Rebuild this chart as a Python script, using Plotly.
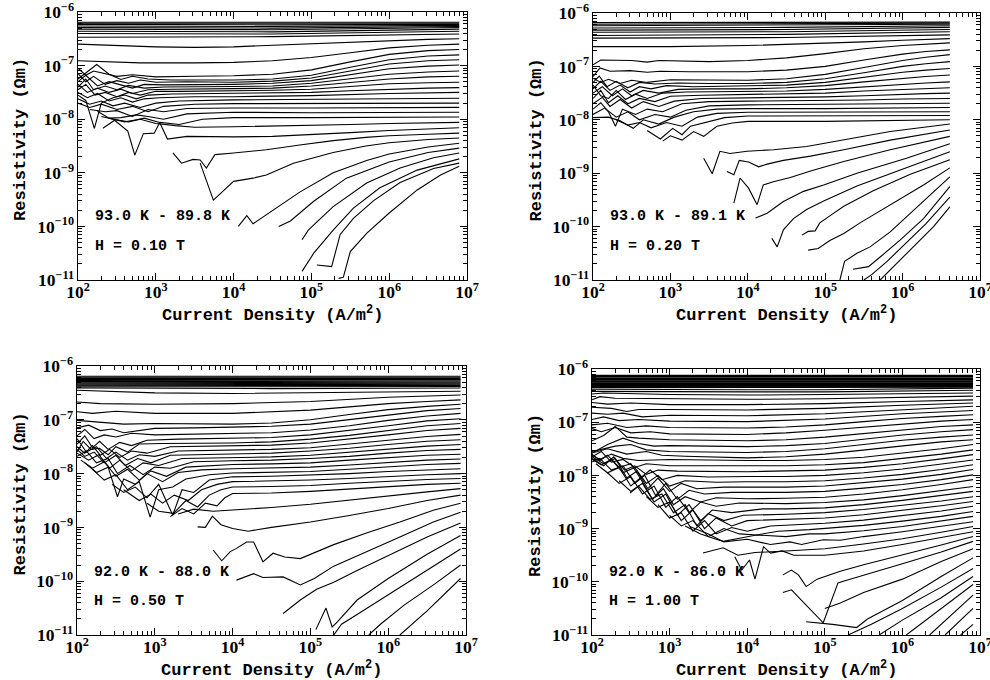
import plotly.graph_objects as go

# Resistivity isotherms.
# Every curve is a list of [log10 J (A/m^2), log10 rho (ohm m)] points.
TEMP_RANGES = ["93.0 K - 89.8 K", "93.0 K - 89.1 K", "92.0 K - 88.0 K", "92.0 K - 86.0 K"]
FIELDS = ["H = 0.10 T", "H = 0.20 T", "H = 0.50 T", "H = 1.00 T"]

# ---------------- H = 0.10 T ----------------
A_BAND = [
    [[2.0, -6.19], [4.5, -6.19], [6.9, -6.19]],
    [[2.0, -6.21], [4.5, -6.21], [6.9, -6.21]],
    [[2.0, -6.23], [4.5, -6.24], [6.9, -6.23]],
    [[2.0, -6.26], [4.5, -6.27], [6.9, -6.25]],
    [[2.0, -6.29], [4.5, -6.30], [6.9, -6.27]],
    [[2.0, -6.32], [4.5, -6.33], [6.9, -6.29]],
    [[2.0, -6.36], [4.5, -6.37], [6.9, -6.32]],
    [[2.0, -6.40], [4.5, -6.41], [6.9, -6.36]],
    [[2.0, -6.47], [4.5, -6.46], [6.9, -6.41]],
]
A_UPPER = [
    [[2.0, -6.60], [2.4, -6.62], [3.0, -6.65], [3.5, -6.66], [4.0, -6.65], [4.5, -6.62], [5.0, -6.59], [5.5, -6.56], [6.0, -6.53], [6.5, -6.51], [6.9, -6.50]],
    [[2.0, -6.91], [2.3, -6.93], [2.8, -6.95], [3.5, -6.95], [4.0, -6.94], [4.5, -6.91], [5.0, -6.85], [5.5, -6.76], [6.0, -6.67], [6.5, -6.62], [6.9, -6.60]],
    [[2.0, -7.05], [2.1, -7.18], [2.2, -7.10], [2.35, -7.15], [2.5, -7.20], [2.7, -7.17], [3.0, -7.21], [3.5, -7.20], [4.0, -7.19], [4.5, -7.16], [5.0, -7.08], [5.5, -6.93], [6.0, -6.79], [6.5, -6.72], [6.9, -6.70]],
]
A_CLUSTER = [
    [[2.0, -7.25], [2.12, -7.12], [2.24, -6.98], [2.4, -7.16], [2.55, -7.26], [2.7, -7.20], [2.9, -7.25], [3.2, -7.27], [4.0, -7.27], [4.5, -7.25], [5.0, -7.18], [5.5, -7.03], [6.0, -6.89], [6.5, -6.82], [6.9, -6.80]],
    [[2.0, -7.15], [2.1, -7.30], [2.2, -7.20], [2.35, -7.35], [2.5, -7.28], [2.65, -7.33], [2.8, -7.27], [3.0, -7.31], [3.4, -7.30], [4.0, -7.31], [4.5, -7.29], [5.0, -7.23], [5.5, -7.10], [6.0, -6.97], [6.5, -6.91], [6.9, -6.89]],
    [[2.0, -7.30], [2.1, -7.18], [2.25, -7.38], [2.4, -7.30], [2.55, -7.36], [2.7, -7.42], [2.85, -7.35], [3.1, -7.36], [4.0, -7.35], [4.5, -7.33], [5.0, -7.28], [5.5, -7.17], [6.0, -7.06], [6.5, -7.01], [6.9, -6.99]],
    [[2.0, -7.40], [2.1, -7.25], [2.2, -7.45], [2.35, -7.38], [2.5, -7.45], [2.65, -7.37], [2.85, -7.42], [3.1, -7.40], [4.0, -7.39], [4.5, -7.38], [5.0, -7.33], [5.5, -7.24], [6.0, -7.16], [6.5, -7.12], [6.9, -7.10]],
    [[2.0, -7.35], [2.12, -7.50], [2.25, -7.42], [2.4, -7.50], [2.55, -7.44], [2.7, -7.52], [2.9, -7.45], [3.2, -7.44], [4.0, -7.43], [4.5, -7.42], [5.0, -7.38], [5.5, -7.31], [6.0, -7.25], [6.5, -7.21], [6.9, -7.20]],
    [[2.0, -7.45], [2.1, -7.35], [2.22, -7.55], [2.35, -7.50], [2.5, -7.58], [2.65, -7.50], [2.8, -7.55], [3.0, -7.48], [3.3, -7.48], [4.0, -7.47], [4.5, -7.46], [5.0, -7.44], [5.5, -7.39], [6.0, -7.34], [6.5, -7.32], [6.9, -7.31]],
    [[2.0, -7.55], [2.1, -7.65], [2.21, -8.17], [2.3, -7.70], [2.45, -7.60], [2.6, -7.55], [2.75, -7.62], [2.9, -7.55], [3.2, -7.53], [4.0, -7.52], [5.0, -7.50], [5.5, -7.47], [6.0, -7.44], [6.5, -7.42], [6.9, -7.41]],
    [[2.0, -7.50], [2.12, -7.60], [2.25, -7.52], [2.4, -7.66], [2.55, -7.60], [2.7, -7.68], [2.85, -7.62], [3.05, -7.60], [3.5, -7.58], [4.0, -7.58], [5.0, -7.56], [5.5, -7.54], [6.0, -7.52], [6.9, -7.50]],
    [[2.0, -7.62], [2.15, -7.72], [2.3, -7.66], [2.45, -7.75], [2.6, -7.70], [2.8, -7.78], [3.0, -7.70], [3.3, -7.66], [4.0, -7.64], [5.0, -7.63], [6.0, -7.61], [6.9, -7.61]],
    [[2.0, -7.70], [2.15, -7.78], [2.3, -7.72], [2.5, -7.82], [2.7, -7.76], [2.9, -7.86], [3.1, -7.76], [3.5, -7.72], [4.0, -7.71], [5.0, -7.71], [6.0, -7.70], [6.9, -7.70]],
    [[2.15, -7.82], [2.35, -7.86], [2.5, -7.84], [2.7, -7.95], [2.9, -7.82], [3.1, -7.86], [3.4, -7.80], [4.0, -7.79], [5.0, -7.79], [6.0, -7.79], [6.9, -7.78]],
    [[2.25, -7.85], [2.4, -7.98], [2.55, -7.97], [2.75, -7.92], [2.9, -7.95], [3.1, -8.00], [3.4, -7.90], [4.0, -7.87], [5.0, -7.88], [6.0, -7.88], [6.9, -7.87]],
    [[2.3, -7.95], [2.45, -8.00], [2.65, -8.05], [2.85, -7.98], [3.05, -8.06], [3.3, -8.10], [3.6, -8.00], [4.0, -7.97], [5.0, -7.97], [6.0, -7.97], [6.9, -7.96]],
    [[2.4, -7.98], [2.6, -8.05], [2.8, -8.00], [3.0, -8.08], [3.25, -8.12], [3.5, -8.15], [4.0, -8.14], [4.5, -8.13], [5.0, -8.12], [5.5, -8.10], [6.0, -8.08], [6.9, -8.06]],
    [[2.32, -8.17], [2.47, -8.02], [2.64, -8.22], [2.73, -8.67], [2.84, -8.27], [2.98, -8.26], [3.05, -8.06], [3.15, -8.37], [3.4, -8.32], [4.0, -8.33], [4.5, -8.32], [5.0, -8.29], [5.5, -8.25], [6.0, -8.21], [6.5, -8.18], [6.9, -8.16]],
]
A_LOWER = [
    [[3.22, -8.63], [3.33, -8.82], [3.48, -8.75], [3.57, -8.76], [3.65, -8.91], [3.76, -8.66], [4.0, -8.63], [4.42, -8.57], [4.85, -8.48], [5.28, -8.40], [5.7, -8.34], [6.0, -8.31], [6.5, -8.28], [6.9, -8.26]],
    [[3.57, -8.82], [3.74, -9.51], [4.0, -9.16], [4.25, -9.10], [4.42, -9.04], [4.77, -8.82], [5.28, -8.62], [5.7, -8.50], [6.0, -8.44], [6.5, -8.38], [6.9, -8.35]],
    [[4.06, -10.0], [4.17, -9.80], [4.25, -9.95], [4.51, -9.70], [4.85, -9.36], [5.28, -9.00], [5.71, -8.77], [6.0, -8.65], [6.5, -8.52], [6.9, -8.45]],
    [[4.58, -10.0], [4.73, -9.90], [5.03, -9.53], [5.45, -9.10], [6.0, -8.80], [6.5, -8.62], [6.9, -8.54]],
    [[4.88, -10.25], [4.96, -10.07], [5.28, -9.63], [5.71, -9.19], [6.14, -8.91], [6.57, -8.72], [6.9, -8.63]],
    [[4.88, -10.84], [5.03, -10.50], [5.28, -10.07], [5.54, -9.66], [5.88, -9.28], [6.36, -8.95], [6.9, -8.74]],
    [[5.07, -10.72], [5.26, -10.75], [5.37, -10.15], [5.54, -9.85], [5.8, -9.52], [6.14, -9.18], [6.57, -8.92], [6.9, -8.82]],
    [[5.35, -10.97], [5.41, -10.95], [5.5, -10.47], [5.71, -10.13], [6.0, -9.75], [6.36, -9.32], [6.66, -9.04], [6.9, -8.88]],
]

# ---------------- H = 0.20 T ----------------
B_BAND = [
    [[2.0, -6.18], [4.5, -6.18], [6.61, -6.17]],
    [[2.0, -6.21], [4.5, -6.20], [6.61, -6.19]],
    [[2.0, -6.24], [4.5, -6.23], [6.61, -6.21]],
    [[2.0, -6.28], [4.5, -6.27], [6.61, -6.24]],
    [[2.0, -6.32], [4.5, -6.31], [6.61, -6.27]],
    [[2.0, -6.36], [4.5, -6.35], [6.61, -6.31]],
    [[2.0, -6.42], [4.5, -6.40], [6.61, -6.35]],
    [[2.0, -6.47], [4.5, -6.46], [6.61, -6.41]],
]
B_UPPER = [
    [[2.0, -6.63], [3.0, -6.63], [4.0, -6.61], [5.0, -6.57], [5.5, -6.54], [6.0, -6.51], [6.61, -6.48]],
    [[2.0, -6.97], [2.1, -6.88], [2.5, -6.89], [2.7, -6.92], [2.85, -6.89], [3.5, -6.91], [4.0, -6.89], [4.5, -6.84], [5.0, -6.76], [5.5, -6.67], [6.0, -6.61], [6.61, -6.56]],
    [[2.0, -7.19], [2.09, -7.03], [2.22, -7.09], [2.48, -7.08], [2.7, -7.11], [2.87, -7.09], [3.25, -7.10], [4.0, -7.10], [4.5, -7.07], [5.0, -7.00], [5.5, -6.88], [6.0, -6.77], [6.3, -6.72], [6.61, -6.69]],
]
B_CLUSTER = [
    [[2.0, -7.22], [2.1, -7.30], [2.2, -7.24], [2.35, -7.32], [2.5, -7.26], [2.7, -7.30], [3.0, -7.25], [3.5, -7.26], [4.0, -7.26], [4.5, -7.23], [5.0, -7.15], [5.5, -7.02], [6.0, -6.89], [6.3, -6.83], [6.61, -6.78]],
    [[2.0, -7.30], [2.08, -7.18], [2.18, -7.38], [2.3, -7.28], [2.45, -7.40], [2.6, -7.30], [2.8, -7.33], [3.1, -7.31], [3.5, -7.32], [4.0, -7.32], [4.5, -7.30], [5.0, -7.23], [5.5, -7.12], [6.0, -7.00], [6.3, -6.95], [6.61, -6.91]],
    [[2.0, -7.42], [2.1, -7.28], [2.22, -7.45], [2.35, -7.35], [2.48, -7.48], [2.6, -7.38], [2.75, -7.42], [2.95, -7.36], [3.3, -7.38], [4.0, -7.37], [4.5, -7.35], [5.0, -7.30], [5.5, -7.20], [6.0, -7.11], [6.3, -7.07], [6.61, -7.04]],
    [[2.0, -7.50], [2.12, -7.38], [2.25, -7.55], [2.38, -7.42], [2.5, -7.55], [2.65, -7.45], [2.85, -7.50], [3.1, -7.43], [3.5, -7.42], [4.0, -7.42], [4.5, -7.40], [5.0, -7.36], [5.5, -7.29], [6.0, -7.22], [6.3, -7.19], [6.61, -7.16]],
    [[2.0, -7.35], [2.1, -7.55], [2.2, -7.60], [2.3, -7.45], [2.42, -7.62], [2.55, -7.52], [2.7, -7.60], [2.9, -7.50], [3.2, -7.48], [4.0, -7.47], [4.5, -7.46], [5.0, -7.43], [5.5, -7.38], [6.0, -7.33], [6.3, -7.31], [6.61, -7.29]],
    [[2.0, -7.60], [2.1, -7.45], [2.2, -7.68], [2.32, -7.55], [2.45, -7.70], [2.6, -7.60], [2.8, -7.66], [3.0, -7.56], [3.4, -7.54], [4.0, -7.53], [4.5, -7.52], [5.0, -7.50], [5.5, -7.46], [6.0, -7.43], [6.3, -7.41], [6.61, -7.40]],
    [[2.0, -7.70], [2.12, -7.58], [2.22, -7.75], [2.35, -7.62], [2.5, -7.78], [2.65, -7.66], [2.85, -7.75], [3.05, -7.65], [3.4, -7.60], [4.0, -7.59], [4.5, -7.58], [5.0, -7.57], [5.5, -7.55], [6.0, -7.52], [6.3, -7.51], [6.61, -7.50]],
    [[2.0, -7.80], [2.1, -7.68], [2.2, -7.85], [2.29, -8.12], [2.38, -7.80], [2.55, -7.90], [2.7, -7.80], [2.9, -7.85], [3.15, -7.70], [3.5, -7.66], [4.0, -7.65], [5.0, -7.64], [5.5, -7.63], [6.0, -7.61], [6.61, -7.60]],
    [[2.0, -7.90], [2.15, -7.78], [2.3, -7.95], [2.45, -7.85], [2.6, -8.00], [2.8, -7.90], [3.0, -7.95], [3.2, -7.82], [3.5, -7.74], [4.0, -7.72], [5.0, -7.71], [6.0, -7.70], [6.61, -7.69]],
    [[2.0, -7.96], [2.2, -7.95], [2.35, -8.02], [2.52, -8.16], [2.65, -8.00], [2.85, -8.08], [3.05, -7.95], [3.3, -7.85], [3.6, -7.80], [4.0, -7.79], [5.0, -7.79], [6.0, -7.78], [6.61, -7.77]],
    [[2.3, -8.00], [2.45, -8.10], [2.6, -8.05], [2.75, -8.15], [2.95, -8.05], [3.15, -8.12], [3.35, -7.95], [3.6, -7.88], [4.0, -7.86], [5.0, -7.86], [6.0, -7.85], [6.61, -7.85]],
    [[2.7, -8.20], [2.87, -8.36], [3.03, -8.16], [3.15, -8.28], [3.26, -8.12], [3.45, -8.05], [3.7, -7.96], [4.0, -7.93], [5.0, -7.93], [6.0, -7.92], [6.61, -7.92]],
    [[2.9, -8.40], [3.0, -8.30], [3.15, -8.38], [3.3, -8.22], [3.43, -8.31], [3.6, -8.12], [3.8, -8.06], [4.0, -8.03], [5.0, -8.03], [6.0, -8.01], [6.61, -8.00]],
]
B_LOWER = [
    [[3.43, -8.72], [3.54, -9.01], [3.64, -8.59], [3.77, -8.63], [3.99, -8.59], [4.33, -8.56], [4.76, -8.50], [5.24, -8.38], [5.84, -8.22], [6.61, -8.08]],
    [[3.73, -8.97], [3.82, -9.03], [3.89, -8.76], [4.01, -8.79], [4.14, -8.88], [4.25, -8.83], [4.46, -8.76], [4.81, -8.68], [5.24, -8.56], [5.84, -8.38], [6.61, -8.19]],
    [[3.82, -9.56], [3.9, -9.09], [4.01, -9.28], [4.12, -9.59], [4.2, -9.22], [4.33, -9.16], [4.55, -9.08], [4.81, -8.96], [5.24, -8.78], [5.84, -8.56], [6.61, -8.31]],
    [[4.1, -9.84], [4.25, -9.75], [4.46, -9.53], [4.72, -9.34], [4.98, -9.22], [5.41, -9.00], [6.05, -8.72], [6.61, -8.45]],
    [[4.31, -10.22], [4.38, -10.38], [4.46, -10.06], [4.59, -9.85], [4.76, -9.68], [4.98, -9.52], [5.41, -9.24], [6.05, -8.90], [6.61, -8.60]],
    [[4.7, -10.16], [4.78, -10.09], [4.87, -10.08], [4.93, -9.93], [5.06, -9.80], [5.24, -9.62], [5.62, -9.33], [6.1, -9.02], [6.61, -8.75]],
    [[4.78, -10.44], [4.91, -10.41], [5.06, -10.26], [5.24, -10.13], [5.45, -9.93], [5.84, -9.60], [6.27, -9.22], [6.61, -8.90]],
    [[5.19, -11.0], [5.25, -10.65], [5.41, -10.50], [5.58, -10.38], [5.84, -10.10], [6.2, -9.62], [6.61, -9.07]],
    [[5.36, -10.80], [5.56, -10.75], [5.71, -10.57], [5.97, -10.25], [6.27, -9.85], [6.61, -9.25]],
    [[5.5, -11.0], [5.6, -10.90], [5.8, -10.65], [6.05, -10.30], [6.3, -9.95], [6.61, -9.45]],
    [[5.71, -11.0], [5.95, -10.65], [6.2, -10.30], [6.4, -10.00], [6.61, -9.63]],
]

# ---------------- H = 0.50 T ----------------
C_BAND = [
    [[2.0, -6.19], [4.5, -6.19], [6.93, -6.19]],
    [[2.0, -6.21], [4.5, -6.21], [6.93, -6.21]],
    [[2.0, -6.23], [4.5, -6.23], [6.93, -6.23]],
    [[2.0, -6.25], [4.5, -6.25], [6.93, -6.25]],
    [[2.0, -6.27], [4.5, -6.27], [6.93, -6.26]],
    [[2.0, -6.29], [4.5, -6.29], [6.93, -6.28]],
    [[2.0, -6.31], [4.5, -6.31], [6.93, -6.30]],
    [[2.0, -6.33], [4.5, -6.33], [6.93, -6.32]],
    [[2.0, -6.35], [4.5, -6.35], [6.93, -6.34]],
    [[2.0, -6.37], [4.5, -6.37], [6.93, -6.36]],
    [[2.0, -6.39], [4.5, -6.39], [6.93, -6.38]],
    [[2.0, -6.41], [4.5, -6.42], [6.93, -6.41]],
]
C_UPPER = [
    [[2.0, -6.45], [3.0, -6.50], [4.0, -6.51], [5.0, -6.50], [6.0, -6.49], [6.93, -6.47]],
    [[2.0, -6.67], [2.3, -6.70], [3.0, -6.71], [4.0, -6.70], [5.0, -6.66], [5.5, -6.62], [6.0, -6.58], [6.93, -6.54]],
    [[2.0, -6.85], [2.2, -6.88], [2.5, -6.84], [3.0, -6.88], [4.0, -6.88], [5.0, -6.82], [5.5, -6.76], [6.0, -6.70], [6.5, -6.66], [6.93, -6.63]],
    [[2.0, -7.01], [2.3, -7.05], [2.6, -7.08], [3.0, -7.07], [4.0, -7.08], [4.5, -7.06], [5.0, -7.00], [5.5, -6.90], [6.0, -6.81], [6.5, -6.75], [6.93, -6.71]],
]
C_CLUSTER = [
    [[2.0, -7.15], [2.15, -7.10], [2.3, -7.20], [2.45, -7.17], [2.6, -7.24], [2.8, -7.20], [3.0, -7.16], [3.5, -7.15], [4.0, -7.14], [4.5, -7.12], [5.0, -7.08], [5.5, -7.00], [6.0, -6.91], [6.5, -6.83], [6.93, -6.79]],
    [[2.0, -7.30], [2.1, -7.18], [2.22, -7.35], [2.35, -7.28], [2.5, -7.32], [2.7, -7.25], [3.0, -7.28], [3.5, -7.27], [4.0, -7.26], [4.5, -7.24], [5.0, -7.19], [5.5, -7.11], [6.0, -7.01], [6.5, -6.93], [6.93, -6.88]],
    [[2.0, -7.45], [2.1, -7.30], [2.2, -7.52], [2.29, -7.40], [2.4, -7.55], [2.55, -7.42], [2.7, -7.48], [2.9, -7.38], [3.3, -7.36], [4.0, -7.35], [4.5, -7.33], [5.0, -7.28], [5.5, -7.20], [6.0, -7.11], [6.5, -7.02], [6.93, -6.98]],
    [[2.0, -7.60], [2.08, -7.40], [2.18, -7.55], [2.29, -7.53], [2.4, -7.65], [2.5, -7.50], [2.65, -7.60], [2.8, -7.45], [3.1, -7.44], [4.0, -7.43], [4.5, -7.41], [5.0, -7.36], [5.5, -7.29], [6.0, -7.20], [6.5, -7.11], [6.93, -7.07]],
    [[2.0, -7.50], [2.1, -7.62], [2.2, -7.48], [2.3, -7.66], [2.42, -7.55], [2.55, -7.70], [2.7, -7.58], [2.9, -7.62], [3.2, -7.50], [4.0, -7.49], [4.5, -7.47], [5.0, -7.43], [5.5, -7.36], [6.0, -7.28], [6.5, -7.20], [6.93, -7.16]],
    [[2.0, -7.35], [2.12, -7.60], [2.25, -7.50], [2.38, -7.72], [2.5, -7.60], [2.65, -7.75], [2.8, -7.65], [3.0, -7.68], [3.3, -7.58], [4.0, -7.57], [4.5, -7.55], [5.0, -7.52], [5.5, -7.45], [6.0, -7.38], [6.5, -7.31], [6.93, -7.27]],
    [[2.0, -7.55], [2.1, -7.68], [2.22, -7.60], [2.35, -7.80], [2.5, -7.66], [2.62, -7.85], [2.78, -7.72], [2.95, -7.80], [3.2, -7.66], [4.0, -7.63], [4.5, -7.62], [5.0, -7.58], [5.5, -7.53], [6.0, -7.46], [6.5, -7.40], [6.93, -7.37]],
    [[2.0, -7.62], [2.15, -7.75], [2.28, -7.65], [2.42, -7.90], [2.55, -7.75], [2.7, -7.95], [2.85, -7.80], [3.05, -7.85], [3.35, -7.72], [4.0, -7.70], [4.5, -7.69], [5.0, -7.66], [5.5, -7.60], [6.0, -7.54], [6.5, -7.49], [6.93, -7.46]],
    [[2.0, -7.68], [2.12, -7.58], [2.25, -7.80], [2.4, -7.72], [2.52, -8.00], [2.68, -7.85], [2.85, -8.02], [3.0, -7.88], [3.2, -7.90], [3.5, -7.78], [4.0, -7.76], [4.5, -7.75], [5.0, -7.72], [5.5, -7.68], [6.0, -7.62], [6.5, -7.57], [6.93, -7.55]],
    [[2.05, -7.75], [2.2, -7.90], [2.35, -7.78], [2.5, -8.05], [2.65, -7.92], [2.8, -8.12], [2.95, -7.95], [3.15, -8.05], [3.4, -7.88], [4.0, -7.83], [4.5, -7.82], [5.0, -7.80], [5.5, -7.75], [6.0, -7.71], [6.5, -7.66], [6.93, -7.64]],
    [[2.1, -7.80], [2.25, -7.98], [2.4, -7.88], [2.52, -8.43], [2.6, -8.10], [2.75, -8.20], [2.9, -8.00], [3.1, -8.15], [3.3, -7.98], [3.6, -7.93], [4.0, -7.91], [4.5, -7.90], [5.0, -7.88], [5.5, -7.84], [6.0, -7.79], [6.5, -7.75], [6.93, -7.73]],
    [[2.2, -7.92], [2.35, -8.12], [2.5, -8.02], [2.65, -8.30], [2.8, -8.15], [2.94, -8.81], [3.05, -8.30], [3.23, -8.25], [3.4, -8.10], [3.7, -8.02], [4.0, -7.99], [4.5, -7.98], [5.0, -7.96], [5.5, -7.92], [6.0, -7.88], [6.5, -7.83], [6.93, -7.81]],
    [[2.45, -8.20], [2.6, -8.35], [2.75, -8.25], [2.9, -8.45], [3.05, -8.20], [3.23, -8.77], [3.35, -8.30], [3.5, -8.35], [3.7, -8.12], [4.0, -8.06], [4.5, -8.05], [5.0, -8.03], [5.5, -8.00], [6.0, -7.96], [6.5, -7.93], [6.93, -7.91]],
    [[2.6, -8.30], [2.8, -8.50], [2.95, -8.38], [3.1, -8.55], [3.25, -8.40], [3.43, -8.50], [3.6, -8.30], [3.8, -8.20], [4.0, -8.15], [4.5, -8.14], [5.0, -8.12], [5.5, -8.09], [6.0, -8.05], [6.5, -8.02], [6.93, -8.00]],
    [[2.9, -8.55], [3.05, -8.70], [3.24, -8.74], [3.4, -8.50], [3.55, -8.62], [3.7, -8.40], [3.85, -8.30], [4.0, -8.25], [4.5, -8.24], [5.0, -8.22], [5.5, -8.18], [6.0, -8.14], [6.5, -8.11], [6.93, -8.09]],
    [[3.2, -8.80], [3.35, -8.65], [3.5, -8.75], [3.65, -8.55], [3.8, -8.60], [3.9, -8.45], [4.0, -8.37], [4.5, -8.36], [5.0, -8.33], [5.5, -8.29], [6.0, -8.24], [6.5, -8.20], [6.93, -8.18]],
]
C_LOWER = [
    [[3.3, -8.75], [3.5, -8.66], [3.75, -8.70], [4.0, -8.68], [4.5, -8.63], [5.0, -8.57], [5.5, -8.49], [6.0, -8.42], [6.5, -8.34], [6.93, -8.28]],
    [[3.55, -8.99], [3.65, -9.00], [3.74, -8.79], [3.85, -8.95], [4.0, -9.02], [4.2, -9.07], [4.5, -9.00], [5.0, -8.90], [5.5, -8.78], [6.0, -8.65], [6.5, -8.50], [6.93, -8.40]],
    [[3.75, -9.42], [3.86, -9.62], [3.97, -9.45], [4.05, -9.39], [4.18, -9.27], [4.27, -9.27], [4.39, -9.64], [4.52, -9.48], [4.67, -9.55], [4.87, -9.58], [5.3, -9.32], [5.73, -9.10], [6.15, -8.90], [6.58, -8.68], [6.93, -8.55]],
    [[4.05, -9.98], [4.27, -9.86], [4.39, -9.93], [4.65, -9.92], [4.87, -10.07], [5.05, -9.95], [5.3, -9.72], [5.73, -9.45], [6.15, -9.18], [6.58, -8.90], [6.93, -8.72]],
    [[4.65, -10.60], [4.87, -10.35], [5.08, -10.15], [5.3, -10.02], [5.6, -9.80], [6.0, -9.52], [6.5, -9.18], [6.93, -8.92]],
    [[5.07, -10.90], [5.13, -10.70], [5.2, -10.50], [5.28, -10.85], [5.35, -10.75], [5.6, -10.35], [6.0, -9.95], [6.5, -9.50], [6.93, -9.15]],
    [[5.3, -11.0], [5.4, -10.80], [5.6, -10.62], [6.0, -10.25], [6.5, -9.80], [6.93, -9.40]],
    [[5.75, -11.0], [5.9, -10.80], [6.2, -10.45], [6.6, -10.05], [6.93, -9.70]],
    [[6.15, -11.0], [6.5, -10.55], [6.93, -9.95]],
]

# ---------------- H = 1.00 T ----------------
D_BAND = [
    [[2.0, -6.12], [6.91, -6.12]], [[2.0, -6.13], [6.91, -6.13]], [[2.0, -6.14], [6.91, -6.14]],
    [[2.0, -6.15], [6.91, -6.15]], [[2.0, -6.17], [6.91, -6.17]], [[2.0, -6.18], [6.91, -6.18]],
    [[2.0, -6.19], [6.91, -6.19]], [[2.0, -6.20], [6.91, -6.20]], [[2.0, -6.22], [6.91, -6.22]],
    [[2.0, -6.23], [6.91, -6.23]], [[2.0, -6.24], [6.91, -6.24]], [[2.0, -6.25], [6.91, -6.25]],
    [[2.0, -6.27], [6.91, -6.27]], [[2.0, -6.28], [6.91, -6.28]], [[2.0, -6.29], [6.91, -6.29]],
    [[2.0, -6.30], [6.91, -6.30]], [[2.0, -6.31], [6.91, -6.31]], [[2.0, -6.33], [6.91, -6.32]],
    [[2.0, -6.34], [6.91, -6.33]], [[2.0, -6.35], [6.91, -6.34]],
]
D_UPPER = [
    [[2.0, -6.38], [3.0, -6.39], [4.0, -6.39], [5.0, -6.39], [6.0, -6.37], [6.91, -6.36]],
    [[2.0, -6.42], [3.0, -6.43], [4.0, -6.43], [5.0, -6.43], [6.0, -6.41], [6.91, -6.40]],
    [[2.0, -6.47], [2.15, -6.45], [3.0, -6.48], [4.0, -6.49], [5.0, -6.48], [6.0, -6.46], [6.91, -6.45]],
    [[2.0, -6.58], [2.1, -6.52], [2.3, -6.55], [3.0, -6.56], [4.0, -6.57], [5.0, -6.56], [6.0, -6.53], [6.91, -6.51]],
    [[2.0, -6.63], [2.2, -6.66], [2.5, -6.64], [3.0, -6.67], [4.0, -6.67], [5.0, -6.65], [6.0, -6.61], [6.91, -6.58]],
    [[2.0, -6.72], [2.25, -6.74], [2.45, -6.80], [2.6, -6.76], [3.0, -6.76], [4.0, -6.77], [5.0, -6.74], [6.0, -6.68], [6.91, -6.64]],
    [[2.0, -6.83], [2.2, -6.85], [2.4, -6.83], [2.65, -6.90], [3.0, -6.87], [4.0, -6.88], [5.0, -6.84], [6.0, -6.76], [6.91, -6.70]],
    [[2.0, -6.95], [2.15, -6.90], [2.35, -6.97], [2.6, -6.95], [3.0, -6.98], [4.0, -6.99], [5.0, -6.94], [5.5, -6.89], [6.0, -6.84], [6.91, -6.78]],
    [[2.0, -7.05], [2.2, -7.02], [2.45, -7.10], [2.7, -7.07], [3.0, -7.10], [4.0, -7.11], [4.5, -7.09], [5.0, -7.05], [5.5, -6.99], [6.0, -6.93], [6.5, -6.89], [6.91, -6.86]],
    [[2.0, -7.12], [2.12, -7.18], [2.3, -7.10], [2.5, -7.20], [2.75, -7.18], [3.0, -7.22], [4.0, -7.23], [4.5, -7.20], [5.0, -7.15], [5.5, -7.09], [6.0, -7.03], [6.5, -6.98], [6.91, -6.95]],
    [[2.0, -7.35], [2.15, -7.25], [2.3, -7.08], [2.45, -7.28], [2.6, -7.30], [3.0, -7.33], [4.0, -7.35], [4.5, -7.33], [5.0, -7.28], [5.5, -7.21], [6.0, -7.14], [6.5, -7.08], [6.91, -7.05]],
    [[2.0, -7.58], [2.2, -7.42], [2.4, -7.30], [2.6, -7.40], [2.8, -7.45], [3.0, -7.44], [4.0, -7.46], [4.5, -7.44], [5.0, -7.40], [5.5, -7.32], [6.0, -7.24], [6.5, -7.18], [6.91, -7.14]],
    [[2.0, -7.55], [2.3, -7.45], [2.5, -7.42], [2.7, -7.52], [3.0, -7.55], [4.0, -7.57], [4.5, -7.55], [5.0, -7.50], [5.5, -7.42], [6.0, -7.34], [6.5, -7.28], [6.91, -7.24]],
    [[2.0, -7.58], [2.2, -7.50], [2.45, -7.60], [2.7, -7.55], [2.9, -7.62], [3.2, -7.64], [4.0, -7.67], [4.5, -7.65], [5.0, -7.60], [5.5, -7.52], [6.0, -7.44], [6.5, -7.37], [6.91, -7.33]],
]
D_CLUSTER = [
    [[2.0, -7.62], [2.1, -7.70], [2.25, -7.60], [2.4, -7.68], [2.6, -7.72], [3.0, -7.70], [4.0, -7.72], [4.5, -7.72], [5.0, -7.70], [5.5, -7.66], [6.0, -7.58], [6.5, -7.50], [6.91, -7.42]],
    [[2.0, -7.65], [2.12, -7.55], [2.25, -7.75], [2.4, -7.70], [2.55, -7.85], [2.7, -7.78], [3.0, -7.82], [4.0, -7.82], [4.5, -7.82], [5.0, -7.80], [5.5, -7.76], [6.0, -7.68], [6.5, -7.60], [6.91, -7.52]],
    [[2.0, -7.68], [2.15, -7.82], [2.28, -7.65], [2.42, -7.90], [2.55, -7.82], [2.7, -7.98], [2.85, -7.90], [3.1, -7.92], [4.0, -7.93], [4.5, -7.92], [5.0, -7.90], [5.5, -7.85], [6.0, -7.78], [6.5, -7.69], [6.91, -7.61]],
    [[2.0, -7.60], [2.1, -7.72], [2.2, -7.62], [2.35, -7.85], [2.5, -7.78], [2.62, -8.05], [2.75, -7.90], [2.9, -8.08], [3.1, -8.00], [3.5, -8.03], [4.0, -8.02], [4.5, -8.02], [5.0, -8.00], [5.5, -7.95], [6.0, -7.88], [6.5, -7.79], [6.91, -7.71]],
    [[2.0, -7.70], [2.12, -7.80], [2.25, -7.70], [2.4, -7.95], [2.55, -7.85], [2.7, -8.15], [2.85, -8.00], [3.0, -8.20], [3.2, -8.10], [3.6, -8.13], [4.0, -8.12], [4.5, -8.12], [5.0, -8.10], [5.5, -8.05], [6.0, -7.98], [6.5, -7.89], [6.91, -7.80]],
    [[2.0, -7.65], [2.15, -7.78], [2.3, -7.68], [2.45, -8.05], [2.58, -7.92], [2.72, -8.25], [2.85, -8.05], [3.0, -8.30], [3.15, -8.15], [3.35, -8.25], [3.7, -8.22], [4.5, -8.22], [5.0, -8.20], [5.5, -8.14], [6.0, -8.07], [6.5, -7.98], [6.91, -7.89]],
    [[2.0, -7.75], [2.1, -7.68], [2.25, -7.90], [2.4, -7.82], [2.55, -8.15], [2.68, -8.00], [2.82, -8.38], [2.95, -8.15], [3.1, -8.45], [3.25, -8.28], [3.45, -8.35], [3.8, -8.32], [4.5, -8.32], [5.0, -8.30], [5.5, -8.24], [6.0, -8.17], [6.5, -8.08], [6.91, -7.99]],
    [[2.05, -7.78], [2.2, -7.95], [2.35, -7.85], [2.5, -8.20], [2.62, -8.05], [2.78, -8.45], [2.92, -8.25], [3.05, -8.55], [3.2, -8.40], [3.4, -8.50], [3.6, -8.42], [4.0, -8.44], [4.5, -8.43], [5.0, -8.41], [5.5, -8.35], [6.0, -8.27], [6.5, -8.17], [6.91, -8.08]],
    [[2.2, -7.95], [2.35, -8.15], [2.5, -8.02], [2.65, -8.35], [2.8, -8.20], [2.95, -8.60], [3.1, -8.40], [3.25, -8.70], [3.4, -8.50], [3.6, -8.58], [3.9, -8.52], [4.5, -8.53], [5.0, -8.51], [5.5, -8.46], [6.0, -8.38], [6.5, -8.29], [6.91, -8.21]],
    [[2.35, -8.10], [2.5, -8.30], [2.65, -8.15], [2.8, -8.50], [2.95, -8.35], [3.1, -8.75], [3.25, -8.55], [3.4, -8.85], [3.55, -8.65], [3.8, -8.70], [4.2, -8.63], [4.5, -8.63], [5.0, -8.61], [5.5, -8.55], [6.0, -8.47], [6.5, -8.38], [6.91, -8.30]],
    [[2.49, -8.33], [2.6, -8.20], [2.75, -8.45], [2.9, -8.35], [3.05, -8.70], [3.2, -8.55], [3.35, -8.95], [3.5, -8.72], [3.7, -8.85], [3.95, -8.75], [4.5, -8.73], [5.0, -8.70], [5.5, -8.64], [6.0, -8.56], [6.5, -8.48], [6.91, -8.40]],
    [[2.7, -8.40], [2.85, -8.60], [3.0, -8.50], [3.15, -8.85], [3.3, -8.65], [3.45, -9.00], [3.6, -8.80], [3.8, -8.95], [4.0, -8.85], [4.5, -8.83], [5.0, -8.80], [5.5, -8.74], [6.0, -8.66], [6.5, -8.57], [6.91, -8.49]],
    [[2.85, -8.55], [3.0, -8.80], [3.15, -8.70], [3.3, -9.05], [3.45, -8.85], [3.6, -9.10], [3.8, -8.98], [4.0, -9.05], [4.3, -8.95], [4.7, -8.92], [5.0, -8.90], [5.5, -8.84], [6.0, -8.76], [6.5, -8.67], [6.91, -8.58]],
    [[3.0, -8.75], [3.15, -8.95], [3.3, -8.85], [3.5, -9.15], [3.7, -9.00], [3.9, -9.10], [4.12, -9.12], [4.4, -9.05], [4.8, -9.02], [5.0, -9.00], [5.5, -8.94], [6.0, -8.86], [6.5, -8.77], [6.91, -8.68]],
    [[3.2, -8.95], [3.4, -9.10], [3.6, -9.20], [3.69, -9.24], [3.9, -9.18], [4.12, -9.12], [4.5, -9.15], [4.8, -9.10], [5.0, -9.10], [5.5, -9.04], [6.0, -8.96], [6.5, -8.86], [6.91, -8.77]],
    [[3.26, -8.96], [3.5, -9.10], [3.7, -9.25], [4.0, -9.20], [4.3, -9.30], [4.55, -9.25], [4.7, -9.30], [4.98, -9.21], [5.2, -9.22], [5.5, -9.15], [6.0, -9.06], [6.5, -8.96], [6.91, -8.87]],
]
D_LOWER = [
    [[3.43, -9.46], [3.6, -9.40], [3.69, -9.36], [3.88, -9.50], [4.1, -9.45], [4.5, -9.42], [5.0, -9.38], [5.5, -9.29], [6.0, -9.19], [6.5, -9.07], [6.91, -8.96]],
    [[3.84, -9.53], [3.93, -9.78], [4.03, -9.59], [4.1, -9.95], [4.21, -9.34], [4.3, -9.46], [4.45, -9.42], [4.6, -9.50], [5.0, -9.50], [5.5, -9.42], [6.0, -9.30], [6.5, -9.17], [6.91, -9.06]],
    [[4.46, -9.87], [4.57, -9.78], [4.66, -9.87], [4.76, -10.09], [4.9, -9.95], [5.2, -9.80], [5.5, -9.68], [6.0, -9.50], [6.5, -9.31], [6.91, -9.15]],
    [[4.46, -10.20], [4.57, -10.15], [4.98, -10.77], [5.17, -10.02], [5.26, -9.98], [5.5, -9.88], [6.0, -9.66], [6.5, -9.44], [6.91, -9.24]],
    [[5.0, -10.50], [5.2, -10.40], [5.5, -10.20], [6.0, -9.95], [6.5, -9.62], [6.91, -9.38]],
    [[4.76, -10.75], [5.1, -10.80], [5.41, -10.86], [5.55, -10.70], [6.0, -10.35], [6.5, -9.90], [6.91, -9.55]],
    [[5.3, -11.0], [5.6, -10.80], [6.0, -10.50], [6.5, -10.10], [6.91, -9.75]],
    [[5.7, -11.0], [6.0, -10.72], [6.5, -10.30], [6.91, -9.90]],
    [[6.05, -11.0], [6.5, -10.50], [6.91, -10.05]],
    [[6.35, -11.0], [6.65, -10.60], [6.91, -10.25]],
    [[6.55, -11.0], [6.91, -10.50]],
    [[6.75, -11.0], [6.91, -10.80]],
]

PANELS = [
    A_BAND + A_UPPER + A_CLUSTER + A_LOWER,
    B_BAND + B_UPPER + B_CLUSTER + B_LOWER,
    C_BAND + C_UPPER + C_CLUSTER + C_LOWER,
    D_BAND + D_UPPER + D_CLUSTER + D_LOWER,
]

W, H = 990, 680
# plot boxes in pixels: (left, right), (top, bottom)
BOXES = [((78, 467), (12, 280)), ((593, 980), (13, 280)),
         ((77, 466), (366, 635)), ((592, 980), (369, 635))]
TEXT_FONT = "Liberation Mono, Courier New, monospace"
TICK_FONT = "Liberation Serif, Times New Roman, serif"

fig = go.Figure()

for i, curves in enumerate(PANELS):
    xa = "x" if i == 0 else f"x{i + 1}"
    ya = "y" if i == 0 else f"y{i + 1}"
    for c in curves:
        fig.add_trace(go.Scatter(
            x=[10 ** p[0] for p in c],
            y=[10 ** p[1] for p in c],
            mode="lines",
            line=dict(color="black", width=1.1),
            xaxis=xa, yaxis=ya,
            showlegend=False, hoverinfo="skip",
        ))

axis_common = dict(
    type="log", dtick=1, showline=True, linecolor="black", linewidth=1.3,
    mirror="ticks", ticks="inside", ticklen=7, tickwidth=1, tickcolor="black",
    showgrid=False, zeroline=False, exponentformat="power", automargin=False,
    ticklabeloverflow="allow",
    tickfont=dict(family=TICK_FONT, size=14, color="black", weight="bold"),
    minor=dict(ticks="inside", ticklen=4, tickwidth=1, tickcolor="black",
               dtick="D1", showgrid=False),
)

title_font = dict(family=TEXT_FONT, size=17, color="black", weight="bold")
label_font = dict(family=TEXT_FONT, size=15, color="black", weight="bold")

layout = dict(template="none", width=W, height=H, paper_bgcolor="white", plot_bgcolor="white",
              margin=dict(l=0, r=0, t=0, b=0, autoexpand=False), showlegend=False)
annotations = []
for i, ((x0, x1), (y0, y1)) in enumerate(BOXES):
    n = "" if i == 0 else str(i + 1)
    layout[f"xaxis{n}"] = dict(axis_common, range=[2, 7], domain=[x0 / W, x1 / W],
                               anchor=f"y{n}", ticklabelstandoff=-3)
    layout[f"yaxis{n}"] = dict(axis_common, range=[-11, -6], domain=[1 - y1 / H, 1 - y0 / H],
                               anchor=f"x{n}")
    # axis titles
    annotations.append(dict(text="Current Density (A/m<sup>2</sup>)", xref="paper", yref="paper",
                            x=(x0 + x1) / 2 / W, y=1 - (y1 + 34) / H, showarrow=False,
                            xanchor="center", yanchor="middle", font=title_font))
    annotations.append(dict(text="Resistivity (Ωm)", xref="paper", yref="paper",
                            x=(x0 - 57) / W, y=1 - ((y0 + y1) / 2 - 6) / H, showarrow=False,
                            textangle=-90, xanchor="center", yanchor="middle", font=title_font))
    # temperature range and field labels
    annotations.append(dict(text=TEMP_RANGES[i], xref="paper", yref="paper",
                            x=(x0 + 15) / W, y=1 - (y1 - 63) / H, showarrow=False,
                            xanchor="left", yanchor="middle", font=label_font))
    annotations.append(dict(text=FIELDS[i], xref="paper", yref="paper",
                            x=(x0 + 15) / W, y=1 - (y1 - 34) / H, showarrow=False,
                            xanchor="left", yanchor="middle", font=label_font))

layout["annotations"] = annotations
fig.update_layout(**layout)

# the page body has a default 8px margin; drop it so the figure sits at the window origin
fig.write_html("out.html", config={"displayModeBar": False},
               post_script="document.body.style.margin='0px';")
